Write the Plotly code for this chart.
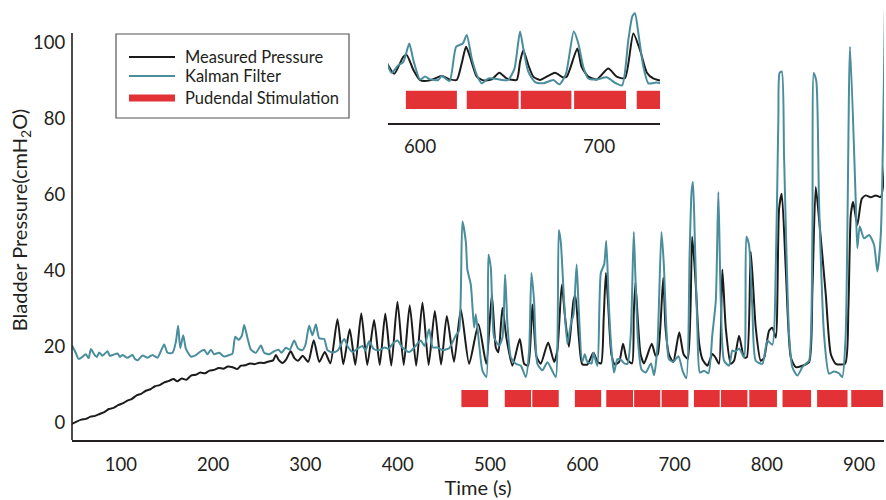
import plotly.graph_objects as go

# ---------------- data ----------------
measured_t = [47, 52, 57, 62, 67, 72, 77, 82, 87, 92, 97, 102, 107, 112, 117, 122, 127, 132, 137, 142,
              147, 152, 157, 161, 166, 171, 176, 181, 186, 191, 196, 201, 206, 211, 216, 221, 226, 230,
              235, 240, 245, 250, 255, 260, 265, 268, 271, 275, 279, 284, 288, 292, 297, 303, 309, 315,
              321, 327, 334.7, 341, 348, 354, 360.5, 367, 374.4, 380.5, 386.5, 393, 399.7, 406.5, 413,
              420, 426.8, 433.5, 440.2, 447, 453.2, 461, 468.4, 477.4, 487.5, 496, 502, 506.3, 509.1,
              513.5, 518, 524.3, 532.3, 537, 541.3, 546, 550.3, 555, 563, 569.5, 573, 577.8, 581.4,
              585.5, 590.6, 592.5, 596.2, 600, 605.5, 612, 616.7, 620.4, 623.2, 625.6, 627.8, 631.6,
              635.3, 640, 644.2, 648.3, 653.9, 655.8, 657.6, 660.4, 663.2, 666.9, 675.3, 679.5, 681.9,
              687.8, 690.2, 693.9, 698.6, 705.1, 709.8, 714.4, 719.1, 723, 726.6, 730.2, 735.6, 741,
              744.7, 748.2, 751.8, 755.5, 760.9, 764.5, 769.9, 775.3, 778.3, 782.6, 788, 793.4, 797,
              802.4, 806, 809.7, 813.3, 816.2, 820.5, 826, 831.4, 838.5, 845.8, 849.4, 853, 856.6,
              863.9, 869.3, 874.7, 884.8, 888.4, 891, 893.5, 898.1, 902.9, 907.2, 912.6, 918, 923.5, 928]
measured_p = [-0.3, 0.3, 0.8, 1.0, 1.6, 1.8, 2.3, 2.8, 3.6, 3.9, 4.6, 5.1, 5.8, 6.3, 7.2, 7.6, 8.4, 8.8,
              9.6, 9.9, 10.6, 11.0, 11.5, 10.9, 11.6, 11.3, 12.4, 12.6, 13.2, 13.0, 13.7, 13.9, 14.4,
              14.2, 14.8, 14.6, 14.1, 15.0, 15.1, 15.6, 15.4, 15.8, 15.7, 16.1, 16.4, 17.8, 16.5, 15.7,
              16.6, 18.8, 17.0, 16.3, 17.6, 16.0, 21.7, 16.0, 18.6, 15.6, 27.2, 15.4, 24.6, 15.2, 28.8,
              15.2, 27.0, 15.2, 28.7, 15.0, 31.8, 15.2, 30.9, 15.0, 31.6, 15.2, 29.4, 15.3, 28.1, 16.0,
              29.8, 15.5, 25.9, 15.5, 33.7, 19.8, 18.5, 30.2, 22.0, 15.0, 22.0, 15.5, 15.0, 31.1, 17.5,
              15.5, 21.1, 16.0, 19.0, 36.3, 27.6, 20.0, 32.3, 33.4, 22.7, 15.4, 15.3, 18.4, 16.0, 15.6,
              27.5, 39.4, 32.3, 18.0, 15.3, 16.0, 20.8, 16.7, 15.6, 28.6, 36.9, 26.3, 18.0, 15.6, 20.8,
              17.6, 18.0, 38.1, 25.0, 18.0, 16.0, 23.8, 18.0, 16.8, 48.9, 36.3, 21.0, 16.7, 15.0, 18.1,
              17.0, 15.5, 40.3, 25.0, 15.5, 16.3, 22.9, 17.2, 17.2, 45.0, 25.0, 16.3, 17.0, 24.2, 25.0,
              22.4, 56.3, 60.2, 40.7, 17.2, 14.6, 15.0, 15.9, 35.0, 62.0, 53.7, 33.7, 18.1, 15.5, 15.5,
              30.0, 54.6, 58.1, 52.0, 58.9, 59.8, 59.3, 59.8, 59.4, 67.6]

kalman_t = [47, 51, 54, 57, 62, 65, 67.5, 71, 74, 76.5, 80, 85.5, 88, 91, 96.5, 99, 101.8, 107, 112.6,
            115, 118, 123.5, 128.8, 134.2, 139.7, 143.3, 146.9, 150.5, 155.9, 159.6, 162, 164.3, 167.5,
            170.4, 175.8, 181.3, 186.7, 190.2, 193.8, 197.5, 201, 206.5, 211.9, 217.3, 220.9, 223.9,
            227.5, 231.1, 233.6, 237.2, 240.9, 246.3, 251.7, 255.3, 260.7, 266.1, 270.8, 274, 278.8,
            283, 287.8, 292, 296.8, 300, 304, 307.6, 311.3, 314.9, 320.3, 323.9, 329.3, 335, 342, 346,
            351, 356, 361.8, 365, 369, 374, 379.9, 386, 390, 394.3, 399.7, 405, 412.4, 418, 425, 429,
            434, 438, 443, 448.5, 455.7, 463, 466.5, 470.1, 473.8, 475.5, 479.2, 482.8, 484.6, 488.2,
            491.8, 496.1, 498.3, 500.9, 504.5, 509.9, 513.5, 516.4, 518.9, 522.6, 528, 533.4, 538.8,
            542.4, 544.9, 547.8, 551.4, 556.8, 562.2, 567.6, 571.3, 574.6, 576.7, 580.3, 583.9, 587.6,
            590.6, 593.9, 596.2, 599.9, 602.7, 605.5, 610.1, 612, 616.4, 620.1, 623.8, 626, 628.8,
            631.6, 634.4, 638.1, 642, 645.5, 649, 652.6, 655.8, 657.6, 660.4, 664.2, 668.8, 674.4,
            677.8, 681.4, 685.8, 688.3, 691.1, 693.9, 698.6, 704.2, 708.8, 712.8, 716.3, 718.5, 720,
            721.9, 724.7, 727.5, 732, 736.7, 741, 744.7, 747.5, 750.1, 753.7, 759.1, 762.7, 766, 770,
            775.3, 777.8, 780.7, 784.3, 788, 795.2, 800.6, 806, 809.7, 812.5, 813.8, 816.2, 818.7,
            824.1, 827.7, 833.1, 838.5, 842.2, 845.8, 849.4, 850.9, 853.7, 856.6, 862, 867.4, 872.8,
            878.2, 881.8, 885.5, 890.2, 896.4, 898.1, 900.7, 905.4, 910.8, 916.2, 919.8, 923.5, 928]
kalman_p = [20.3, 18.4, 16.8, 17.1, 18.0, 17.0, 19.4, 18.0, 17.3, 18.5, 17.6, 18.8, 17.6, 17.8, 18.2,
            17.3, 17.8, 17.1, 17.8, 16.8, 16.4, 17.7, 17.1, 17.8, 17.1, 18.8, 20.6, 18.4, 18.4, 21.3,
            25.5, 19.6, 23.0, 19.5, 17.4, 17.8, 18.8, 19.2, 18.0, 19.2, 18.0, 18.4, 17.4, 17.8, 18.2,
            22.6, 21.8, 22.9, 25.7, 22.3, 19.2, 18.4, 20.3, 18.4, 18.0, 18.8, 19.2, 18.4, 19.7, 19.2,
            21.6, 19.5, 19.1, 20.5, 25.5, 23.0, 25.9, 22.2, 22.0, 19.1, 18.5, 19.0, 22.0, 20.0, 18.6,
            19.4, 20.2, 19.0, 21.4, 19.4, 19.1, 19.8, 19.4, 20.7, 21.6, 19.8, 18.6, 19.8, 21.6, 20.2,
            24.6, 19.8, 19.8, 19.1, 19.6, 23.0, 24.2, 52.9, 47.6, 40.3, 36.3, 25.0, 28.5, 20.7, 13.7,
            12.0, 44.2, 40.7, 22.4, 20.3, 22.4, 39.0, 25.9, 17.2, 15.5, 15.0, 12.0, 19.0, 39.4, 32.0,
            15.5, 13.8, 15.9, 13.6, 12.0, 50.7, 47.6, 32.0, 20.7, 25.9, 28.6, 41.6, 29.7, 16.0, 18.0,
            16.0, 15.6, 18.4, 14.9, 39.4, 41.7, 47.8, 31.1, 19.2, 13.2, 16.7, 16.5, 15.6, 15.5, 23.3,
            50.2, 38.3, 21.5, 14.0, 13.2, 15.6, 12.5, 19.8, 50.2, 42.0, 25.1, 16.7, 16.0, 17.5, 13.6,
            11.7, 44.2, 61.0, 63.3, 49.0, 25.1, 13.2, 13.7, 13.0, 23.3, 32.0, 60.7, 32.0, 16.3, 15.0,
            19.0, 18.7, 19.5, 17.2, 48.9, 46.8, 30.2, 16.3, 15.5, 21.6, 20.5, 40.7, 80.0, 92.0, 92.4,
            70.0, 23.3, 14.6, 12.4, 14.6, 15.5, 16.3, 50.0, 92.0, 89.8, 58.0, 23.3, 12.9, 13.5, 13.0,
            12.0, 23.3, 98.9, 58.1, 45.9, 51.6, 48.5, 49.4, 46.8, 39.8, 49.4, 108.5]

stim_start = [469, 516, 545.8, 592, 626, 656.2, 686, 721, 750.3, 781, 817, 854.5, 891.5]
stim_end = [498, 544.5, 574.5, 620.5, 655, 684.5, 715, 749, 779, 811, 848, 887.5, 926]

x_ticks = [100, 200, 300, 400, 500, 600, 700, 800, 900]
y_ticks = [0, 20, 40, 60, 80, 100]
inset_ticks = [600, 700]

series_names = ["Measured Pressure", "Kalman Filter", "Pudendal Stimulation"]

# ---------------- style ----------------
FONT = "Lato"
TXT = "#231f20"
BLACK = "#1b1b1b"
TEAL = "#4a8d9c"
RED = "#e23236"

W, H = 886, 500
# plot area in page pixels: x 72..884, y 0..440
ML, MR, MT, MB = 72, 2, 0, 60
PW, PH = W - ML - MR, H - MT - MB


def px(xp):
    return (xp - ML) / PW


def py(yp):
    return (H - MB - yp) / PH


stim_mid = [(a + b) / 2 for a, b in zip(stim_start, stim_end)]
stim_w = [b - a for a, b in zip(stim_start, stim_end)]

fig = go.Figure()

LINE_SHAPE = dict(shape="spline", smoothing=0.6)

# main axes
fig.add_trace(go.Bar(x=stim_mid, y=[4.5] * len(stim_mid), base=4.1, width=stim_w,
                     marker=dict(color=RED, line=dict(width=0)), showlegend=False,
                     name=series_names[2], xaxis="x", yaxis="y"))
fig.add_trace(go.Scatter(x=measured_t, y=measured_p, mode="lines", name=series_names[0],
                         line=dict(color=BLACK, width=2, **LINE_SHAPE), showlegend=False,
                         xaxis="x", yaxis="y"))
fig.add_trace(go.Scatter(x=kalman_t, y=kalman_p, mode="lines", name=series_names[1],
                         line=dict(color=TEAL, width=2, **LINE_SHAPE), showlegend=False,
                         xaxis="x", yaxis="y"))

# inset axes
fig.add_trace(go.Bar(x=stim_mid, y=[13.1] * len(stim_mid), base=-5.2, width=stim_w,
                     marker=dict(color=RED, line=dict(width=0)), showlegend=False,
                     name=series_names[2], xaxis="x2", yaxis="y2"))
fig.add_trace(go.Scatter(x=measured_t, y=measured_p, mode="lines", name=series_names[0],
                         line=dict(color=BLACK, width=2, **LINE_SHAPE), showlegend=False,
                         xaxis="x2", yaxis="y2"))
fig.add_trace(go.Scatter(x=kalman_t, y=kalman_p, mode="lines", name=series_names[1],
                         line=dict(color=TEAL, width=2, **LINE_SHAPE), showlegend=False,
                         xaxis="x2", yaxis="y2"))

shapes = []
# y axis line (stops near 100)
shapes.append(dict(type="line", xref="paper", yref="paper", x0=0, x1=0, y0=0, y1=py(33),
                   line=dict(color=TXT, width=1.6)))
# legend box
shapes.append(dict(type="rect", xref="paper", yref="paper", x0=px(116), x1=px(349), y0=py(118), y1=py(34),
                   line=dict(color="#555555", width=1.2), fillcolor="white"))
leg_y = [57, 76, 98]
leg_col = [BLACK, TEAL, RED]
leg_w = [2.2, 2.2, 7]
annotations = []
for name, yy, c, lw in zip(series_names, leg_y, leg_col, leg_w):
    shapes.append(dict(type="line", xref="paper", yref="paper", x0=px(129), x1=px(175), y0=py(yy), y1=py(yy),
                       line=dict(color=c, width=lw)))
    annotations.append(dict(xref="paper", yref="paper", x=px(183), y=py(yy), text=name, showarrow=False,
                            xanchor="left", yanchor="middle", font=dict(family=FONT, size=16.5, color=TXT)))

fig.update_layout(
    width=W, height=H,
    margin=dict(l=ML, r=MR, t=MT, b=MB),
    paper_bgcolor="white", plot_bgcolor="white",
    barmode="overlay",
    font=dict(family=FONT, color=TXT, size=18.5),
    xaxis=dict(domain=[0, 1], range=[47, 927], tickvals=x_ticks, showline=True, linecolor=TXT, linewidth=1.6,
               ticks="outside", ticklen=7, tickcolor="rgba(0,0,0,0)", showgrid=False, zeroline=False,
               tickfont=dict(family=FONT, size=18.5, color=TXT),
               title=dict(text="Time (s)", font=dict(family=FONT, size=20, color=TXT), standoff=2)),
    yaxis=dict(domain=[0, 1], range=[-4.55, 111.2], tickvals=y_ticks, showline=False,
               ticks="outside", ticklen=2, tickcolor="rgba(0,0,0,0)", showgrid=False, zeroline=False,
               tickfont=dict(family=FONT, size=18.5, color=TXT),
               title=dict(text="Bladder Pressure(cmH<sub>2</sub>O)", font=dict(family=FONT, size=20, color=TXT),
                          standoff=0)),
    xaxis2=dict(domain=[px(388), px(660)], anchor="y2", range=[582, 734], tickvals=inset_ticks,
                showline=True, linecolor=TXT, linewidth=1.6, ticks="outside", ticklen=6,
                tickcolor="rgba(0,0,0,0)", showgrid=False, zeroline=False,
                tickfont=dict(family=FONT, size=18.5, color=TXT)),
    yaxis2=dict(domain=[py(123.3), 1], anchor="x2", range=[-15.4, 72.8], visible=False,
                showgrid=False, zeroline=False),
    shapes=shapes,
    annotations=annotations,
    showlegend=False,
)

fig.write_html("out.html", config={"displayModeBar": False},
               post_script="document.body.style.margin='0';document.body.style.overflow='hidden';")
